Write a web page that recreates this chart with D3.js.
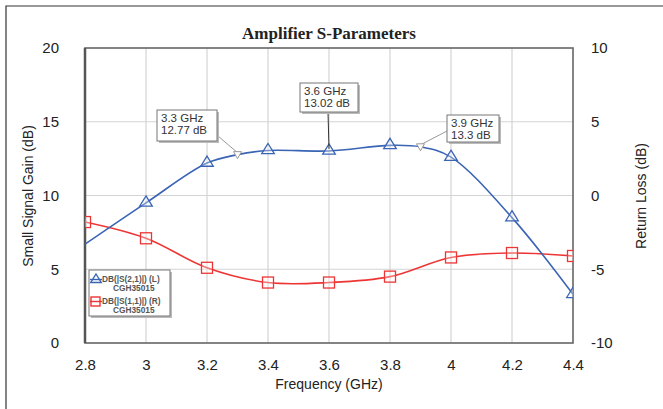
<!DOCTYPE html>
<html>
<head>
<meta charset="utf-8">
<script src="https://d3js.org/d3.v7.min.js"></script>
<style>
body{margin:0;background:#fff;}
text{font-family:"Liberation Sans",Arial,sans-serif;}
</style>
</head>
<body>
<svg width="663" height="409" id="mainsvg"></svg>
<script>
// S21 gain (left axis, dB)
const s21Freq = [2.8, 3.0, 3.2, 3.3, 3.4, 3.6, 3.8, 3.9, 4.0, 4.2, 4.4];
const s21Val  = [6.7, 9.5, 12.2, 12.77, 13.05, 13.02, 13.4, 13.3, 12.6, 8.5, 3.3];
const s21Marks = [3.0, 3.2, 3.4, 3.6, 3.8, 4.0, 4.2, 4.4];
// S11 return loss (right axis, dB)
const s11Freq = [2.8, 3.0, 3.2, 3.4, 3.6, 3.8, 4.0, 4.2, 4.4];
const s11Val  = [-1.8, -2.9, -4.9, -5.9, -5.9, -5.5, -4.2, -3.9, -4.1];
const xTicks = [2.8, 3, 3.2, 3.4, 3.6, 3.8, 4, 4.2, 4.4];
const yLeftTicks = [0, 5, 10, 15, 20];
const yRightTicks = [-10, -5, 0, 5, 10];
// marker annotations
const notes = [
  {f:3.3, v:12.77, lines:['3.3 GHz','12.77 dB']},
  {f:3.6, v:13.02, lines:['3.6 GHz','13.02 dB']},
  {f:3.9, v:13.3,  lines:['3.9 GHz','13.3 dB']}
];
const legendItems = [
  {name:'DB(|S(2,1)|) (L)', sub:'CGH35015', color:'#3a64b4', shape:'tri'},
  {name:'DB(|S(1,1)|) (R)', sub:'CGH35015', color:'#ee3535', shape:'sq'}
];

const svg = d3.select('#mainsvg');
const L = 85, R = 573, T = 48, B = 343;
const blue = '#3a64b4', red = '#ee3535';

// outer frame
svg.append('path').attr('d','M6,409 V6 H663').attr('fill','none').attr('stroke','#333').attr('stroke-width',1.2);

const x = d3.scaleLinear().domain([2.8,4.4]).range([L,R]);
const yL = d3.scaleLinear().domain([0,20]).range([B,T]);
const yR = d3.scaleLinear().domain([-10,10]).range([B,T]);

svg.append('defs').append('clipPath').attr('id','clip')
  .append('rect').attr('x',L).attr('y',T).attr('width',R-L).attr('height',B-T);

// grid
const grid = svg.append('g').attr('stroke','#d4d4d4').attr('stroke-width',1.2);
xTicks.slice(1,-1).forEach(t=>grid.append('line').attr('x1',x(t)).attr('x2',x(t)).attr('y1',T).attr('y2',B));
yLeftTicks.slice(1,-1).forEach(t=>grid.append('line').attr('x1',L).attr('x2',R).attr('y1',yL(t)).attr('y2',yL(t)));

// axes via d3 axis, ticks only as labels
const fmt = d=>String(d);
const ax = svg.append('g').attr('transform',`translate(0,${B})`)
  .call(d3.axisBottom(x).tickValues(xTicks).tickSize(0).tickPadding(16).tickFormat(fmt));
const ayl = svg.append('g').attr('transform',`translate(${L},0)`)
  .call(d3.axisLeft(yL).tickValues(yLeftTicks).tickSize(0).tickPadding(26).tickFormat(fmt));
const ayr = svg.append('g').attr('transform',`translate(${R},0)`)
  .call(d3.axisRight(yR).tickValues(yRightTicks).tickSize(0).tickPadding(18).tickFormat(fmt));
[ax,ayl,ayr].forEach(a=>{
  a.select('.domain').remove();
  a.selectAll('text').attr('font-size',15).attr('fill','#222').style('font-family','"Liberation Sans",Arial,sans-serif');
});

// plot border
svg.append('rect').attr('x',L).attr('y',T).attr('width',R-L).attr('height',B-T)
  .attr('fill','none').attr('stroke','#666').attr('stroke-width',1.6);
svg.append('line').attr('x1',L).attr('x2',L).attr('y1',T).attr('y2',B).attr('stroke','#555').attr('stroke-width',2.5);

// lines
const plot = svg.append('g').attr('clip-path','url(#clip)');
const s21 = s21Freq.map((f,i)=>({f, v:s21Val[i]}));
const s11 = s11Freq.map((f,i)=>({f, v:s11Val[i]}));
plot.append('path').datum(s11)
  .attr('d', d3.line().x(d=>x(d.f)).y(d=>yR(d.v)).curve(d3.curveCatmullRom))
  .attr('fill','none').attr('stroke',red).attr('stroke-width',1.6);
plot.append('path').datum(s21)
  .attr('d', d3.line().x(d=>x(d.f)).y(d=>yL(d.v)).curve(d3.curveCatmullRom))
  .attr('fill','none').attr('stroke',blue).attr('stroke-width',1.6);

// markers
const triPath = (cx,cy,s)=>`M${cx},${cy-s} L${cx+s*1.05},${cy+s*0.7} L${cx-s*1.05},${cy+s*0.7} Z`;
plot.selectAll('.sq').data(s11).enter().append('rect')
  .attr('x',d=>x(d.f)-5.5).attr('y',d=>yR(d.v)-5.5).attr('width',11).attr('height',11)
  .attr('fill','rgba(255,255,255,0.3)').attr('stroke',red).attr('stroke-width',1.3);
plot.selectAll('.tri').data(s21.filter(d=>s21Marks.includes(d.f))).enter().append('path')
  .attr('d',d=>triPath(x(d.f),yL(d.v)-1,6))
  .attr('fill','rgba(255,255,255,0.3)').attr('stroke',blue).attr('stroke-width',1.3);

// annotations
const boxes = [
  {x0:157, y0:110, w:60, h:31, ax:218, ay:136},
  {x0:300, y0:83, w:58, h:29, ax:328, ay:112},
  {x0:447, y0:115, w:52, h:27, ax:447, ay:131}
];
const ann = svg.append('g');
notes.forEach((n,i)=>{
  const b = boxes[i], mx = x(n.f), my = yL(n.v);
  ann.append('line').attr('x1',b.ax).attr('y1',b.ay).attr('x2',mx).attr('y2',my-2)
    .attr('stroke',i===1?'#333':'#999').attr('stroke-width',1);
  if(i!==1){
    ann.append('path').attr('d',`M${mx},${my+4} L${mx+4},${my-3} L${mx-4},${my-3} Z`)
      .attr('fill','#fff').attr('stroke','#999').attr('stroke-width',1);
  }
  ann.append('rect').attr('x',b.x0+2).attr('y',b.y0+2).attr('width',b.w).attr('height',b.h).attr('fill','#bbb');
  ann.append('rect').attr('x',b.x0).attr('y',b.y0).attr('width',b.w).attr('height',b.h)
    .attr('fill','#fff').attr('stroke','#777').attr('stroke-width',1);
  n.lines.forEach((t,j)=>ann.append('text').attr('x',b.x0+4).attr('y',b.y0+12+j*12)
    .attr('font-size',11.5).attr('fill','#333').text(t));
});

// legend
const lg = svg.append('g').attr('transform','translate(89,270)');
lg.append('rect').attr('x',2).attr('y',2).attr('width',81).attr('height',46).attr('fill','#bbb');
lg.append('rect').attr('width',81).attr('height',46).attr('fill','#fff').attr('stroke','#777');
legendItems.forEach((it,i)=>{
  const yy = 9 + i*22;
  if(it.shape==='tri') lg.append('path').attr('d',triPath(7,yy,5)).attr('fill','#fff').attr('stroke',it.color).attr('stroke-width',1.4);
  else lg.append('rect').attr('x',2).attr('y',yy-4).attr('width',9).attr('height',9).attr('fill','#fff').attr('stroke',it.color).attr('stroke-width',1.4);
  lg.append('line').attr('x1',1).attr('x2',13).attr('y1',yy+0.5).attr('y2',yy+0.5).attr('stroke',it.color).attr('stroke-width',1.4);
  lg.append('text').attr('x',13).attr('y',yy+3).attr('font-size',8.3).attr('font-weight','bold').attr('fill','#555').text(it.name);
  lg.append('text').attr('x',24).attr('y',yy+12).attr('font-size',8.3).attr('font-weight','bold').attr('fill','#555').text(it.sub);
});

// titles
svg.append('text').attr('x',329).attr('y',39).attr('text-anchor','middle')
  .style('font-family','"Liberation Serif","Times New Roman",serif').attr('font-weight','bold')
  .attr('font-size',17).attr('fill','#222').text('Amplifier S-Parameters');
svg.append('text').attr('x',329).attr('y',389).attr('text-anchor','middle')
  .attr('font-size',14).attr('fill','#222').text('Frequency (GHz)');
svg.append('text').attr('transform','translate(33,196) rotate(-90)').attr('text-anchor','middle')
  .attr('font-size',14).attr('fill','#222').text('Small Signal Gain (dB)');
svg.append('text').attr('transform','translate(646,196) rotate(-90)').attr('text-anchor','middle')
  .attr('font-size',14).attr('fill','#222').text('Return Loss (dB)');
</script>
</body>
</html>
